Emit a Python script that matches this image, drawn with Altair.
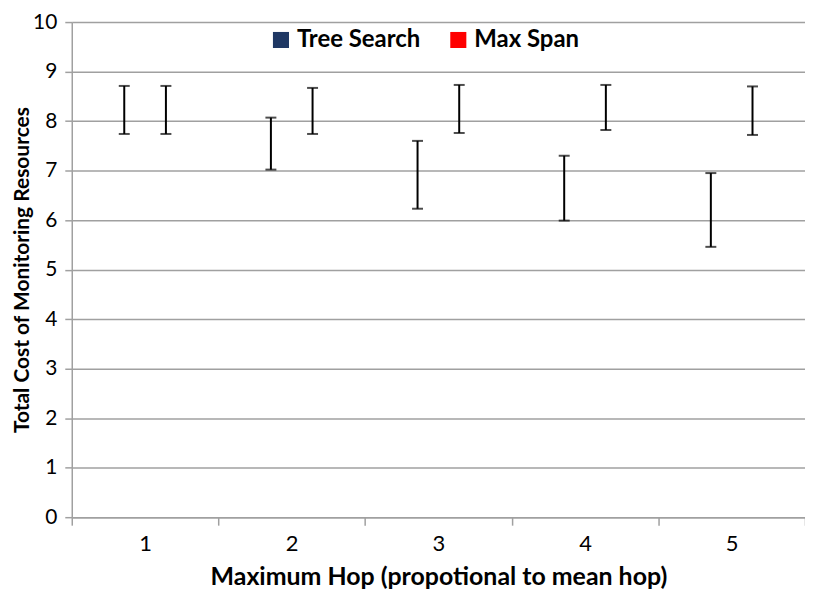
import altair as alt
import pandas as pd

hops = ["1", "2", "3", "4", "5"]
series = ["Tree Search", "Max Span"]
tree_low = [7.74, 7.02, 6.23, 5.99, 5.46]
tree_high = [8.71, 8.07, 7.60, 7.30, 6.95]
span_low = [7.74, 7.74, 7.76, 7.82, 7.72]
span_high = [8.71, 8.67, 8.73, 8.73, 8.70]

rows = []
for i, h in enumerate(hops):
    rows.append({"hop": h, "series": "Tree Search", "low": tree_low[i], "high": tree_high[i], "zero": 0})
    rows.append({"hop": h, "series": "Max Span", "low": span_low[i], "high": span_high[i], "zero": 0})
df = pd.DataFrame(rows)

FONT = "Lato"
GRID = "#a0a0a0"

x = alt.X("hop:N", sort=hops, title="Maximum Hop (propotional to mean hop)",
          scale=alt.Scale(paddingInner=0, paddingOuter=0),
          axis=alt.Axis(labelAngle=0, labelFontSize=22, labelFont=FONT, labelColor="#000",
                        labelPadding=8, titleFontSize=25, titleFont=FONT, titleFontWeight="bold",
                        titleColor="#000", titlePadding=11, tickBand="extent", tickSize=8,
                        tickColor=GRID, tickWidth=1.5, domainColor=GRID, domainWidth=1.5,
                        grid=False))
yscale = alt.Scale(domain=[0, 10])
y = alt.Y("low:Q", title="Total Cost of Monitoring Resources", scale=yscale,
          axis=alt.Axis(values=list(range(11)), labelFontSize=21, labelFont=FONT, labelColor="#000",
                        labelPadding=8, titleFontSize=21, titleFont=FONT, titleFontWeight="bold",
                        titleColor="#000", titleX=-49, titleBaseline="middle", tickSize=7,
                        tickColor=GRID, tickWidth=1.5, domainColor=GRID, domainWidth=1.5,
                        gridColor=GRID, gridWidth=1.5))
xo = alt.XOffset("series:N", sort=series, scale=alt.Scale(paddingInner=0, paddingOuter=0.76))

base = alt.Chart(df)

legend_bars = base.mark_bar().encode(
    x=x, xOffset=xo,
    y=alt.Y("zero:Q", scale=yscale),
    y2="zero:Q",
    color=alt.Color("series:N", sort=series,
                    scale=alt.Scale(domain=series, range=["#1f3864", "#ff0000"]),
                    legend=alt.Legend(title=None, orient="none", direction="horizontal",
                                      legendX=198, legendY=6, symbolType="square",
                                      symbolSize=260, symbolStrokeWidth=0,
                                      labelFontSize=24, labelFont=FONT, labelFontWeight="bold",
                                      labelColor="#000", columnPadding=26, labelOffset=4)),
)

rules = base.mark_rule(color="#000", strokeWidth=2).encode(x=x, xOffset=xo, y=y, y2="high:Q")
cap_low = base.mark_tick(color="#000", thickness=2, size=11).encode(x=x, xOffset=xo, y=y)
cap_high = base.mark_tick(color="#000", thickness=2, size=11).encode(
    x=x, xOffset=xo, y=alt.Y("high:Q", scale=yscale))

chart = alt.layer(legend_bars, rules, cap_low, cap_high).properties(
    width=736, height=497,
    autosize=alt.AutoSizeParams(type="none"),
    padding={"left": 64, "top": 13, "right": 0, "bottom": 80},
).configure_view(stroke=None)

chart.save("out.html", embed_options={"renderer": "svg", "actions": False})
